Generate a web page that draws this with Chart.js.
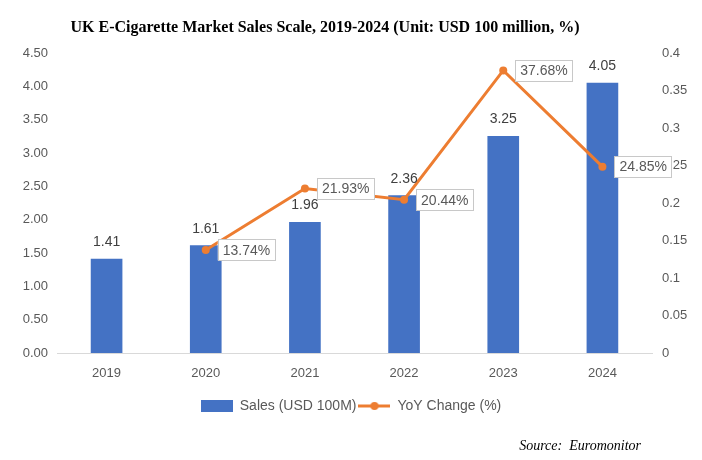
<!DOCTYPE html>
<html>
<head>
<meta charset="utf-8">
<script src="https://cdn.jsdelivr.net/npm/chart.js@4.4.1/dist/chart.umd.min.js"></script>
<style>
  html, body { margin: 0; padding: 0; background: #fff; }
  #wrap { position: relative; width: 702px; height: 460px; overflow: hidden; }
  #chart { position: absolute; left: 0; top: 0; }
  #title { position: absolute; left: 0; top: 18px; width: 650px; text-align: center;
    font-family: "Liberation Serif", "Times New Roman", serif; font-weight: bold; font-size: 16px; color: #000; }
  #source { position: absolute; right: 61px; top: 438px;
    font-family: "Liberation Serif", "Times New Roman", serif; font-style: italic; font-size: 14px; color: #000; white-space: pre; }
</style>
</head>
<body>
<div id="wrap">
  <canvas id="chart" width="702" height="460"></canvas>
  <div id="title">UK E-Cigarette Market Sales Scale, 2019-2024 (Unit: USD 100 million, %)</div>
  <div id="source">Source:  Euromonitor</div>
</div>
<script>
const categories = ["2019", "2020", "2021", "2022", "2023", "2024"];
const salesValues = [1.41, 1.61, 1.96, 2.36, 3.25, 4.05];
const yoyValues = [null, 0.1374, 0.2193, 0.2044, 0.3768, 0.2485];
const seriesNames = ["Sales (USD 100M)", "YoY Change (%)"];

const BLUE = "#4472C4";
const ORANGE = "#ED7D31";
const FONT = '"Liberation Sans", Arial, Helvetica, sans-serif';

function makeLegendImage(kind) {
  const c = document.createElement("canvas");
  c.width = 32; c.height = 12;
  const g = c.getContext("2d");
  if (kind === "bar") {
    g.fillStyle = BLUE;
    g.fillRect(0, 0, 32, 12);
  } else {
    g.strokeStyle = ORANGE;
    g.lineWidth = 3;
    g.beginPath(); g.moveTo(0, 6); g.lineTo(32, 6); g.stroke();
    g.fillStyle = ORANGE;
    g.beginPath(); g.arc(16, 6, 4, 0, Math.PI * 2); g.fill();
  }
  return c;
}

const labelPlugin = {
  id: "valueLabels",
  afterDatasetsDraw(chart) {
    const ctx = chart.ctx;
    ctx.save();
    const barMeta = chart.getDatasetMeta(0);
    ctx.font = "14px " + FONT;
    ctx.fillStyle = "#404040";
    ctx.textAlign = "center";
    ctx.textBaseline = "middle";
    barMeta.data.forEach((el, i) => {
      ctx.fillText(salesValues[i].toFixed(2), el.x, el.y - 17);
    });
    const lineMeta = chart.getDatasetMeta(1);
    lineMeta.data.forEach((el, i) => {
      const v = yoyValues[i];
      if (v === null || v === undefined) return;
      const txt = (v * 100).toFixed(2) + "%";
      ctx.font = "14px " + FONT;
      const w = ctx.measureText(txt).width + 10;
      const h = 21;
      const x0 = el.x + 12;
      const y0 = el.y - h / 2;
      ctx.fillStyle = "#ffffff";
      ctx.fillRect(x0, y0, w, h);
      ctx.strokeStyle = "#c8c8c8";
      ctx.lineWidth = 1;
      ctx.strokeRect(Math.round(x0) + 0.5, Math.round(y0) + 0.5, Math.round(w), h);
      ctx.fillStyle = "#595959";
      ctx.textAlign = "left";
      ctx.textBaseline = "middle";
      ctx.fillText(txt, x0 + 5, el.y + 1);
    });
    ctx.restore();
  }
};

new Chart(document.getElementById("chart"), {
  data: {
    labels: categories,
    datasets: [
      {
        type: "bar",
        label: seriesNames[0],
        data: salesValues,
        backgroundColor: BLUE,
        yAxisID: "y",
        barThickness: 31,
        order: 2
      },
      {
        type: "line",
        label: seriesNames[1],
        data: yoyValues,
        borderColor: ORANGE,
        backgroundColor: ORANGE,
        borderWidth: 3,
        pointRadius: 4,
        pointBackgroundColor: ORANGE,
        pointBorderWidth: 0,
        tension: 0,
        yAxisID: "y1",
        order: 1
      }
    ]
  },
  options: {
    responsive: false,
    animation: false,
    devicePixelRatio: 1,
    layout: { padding: { top: 53, bottom: 37, left: 0, right: 0 } },
    plugins: {
      title: { display: false },
      tooltip: { enabled: false },
      legend: {
        display: true,
        position: "bottom",
        labels: {
          usePointStyle: true,
          pointStyleWidth: 32,
          boxHeight: 12,
          padding: 2,
          color: "#595959",
          font: { family: FONT, size: 14 },
          generateLabels(chart) {
            return chart.data.datasets.map((ds, i) => ({
              text: ds.label,
              pointStyle: makeLegendImage(i === 0 ? "bar" : "line"),
              fillStyle: ds.backgroundColor,
              strokeStyle: ds.borderColor,
              lineWidth: 0,
              hidden: false,
              datasetIndex: i,
              fontColor: "#595959"
            }));
          }
        }
      }
    },
    scales: {
      x: {
        grid: { display: false, drawTicks: false },
        border: { display: true, color: "#d9d9d9", width: 1 },
        ticks: { color: "#595959", font: { family: FONT, size: 13 }, padding: 13 },
        afterFit(scale) { scale.height = 44; }
      },
      y: {
        position: "left",
        min: 0, max: 4.5,
        grid: { display: false, drawTicks: false },
        border: { display: false },
        ticks: {
          stepSize: 0.5,
          color: "#595959",
          font: { family: FONT, size: 13 },
          padding: 9,
          callback: (v) => Number(v).toFixed(2)
        },
        afterFit(scale) { scale.width = 57; }
      },
      y1: {
        position: "right",
        min: 0, max: 0.4,
        grid: { display: false, drawTicks: false },
        border: { display: false },
        ticks: {
          stepSize: 0.05,
          color: "#595959",
          font: { family: FONT, size: 13 },
          padding: 10,
          callback: (v) => String(Math.round(v * 100) / 100)
        },
        afterFit(scale) { scale.width = 50; }
      }
    }
  },
  plugins: [labelPlugin]
});
</script>
</body>
</html>
